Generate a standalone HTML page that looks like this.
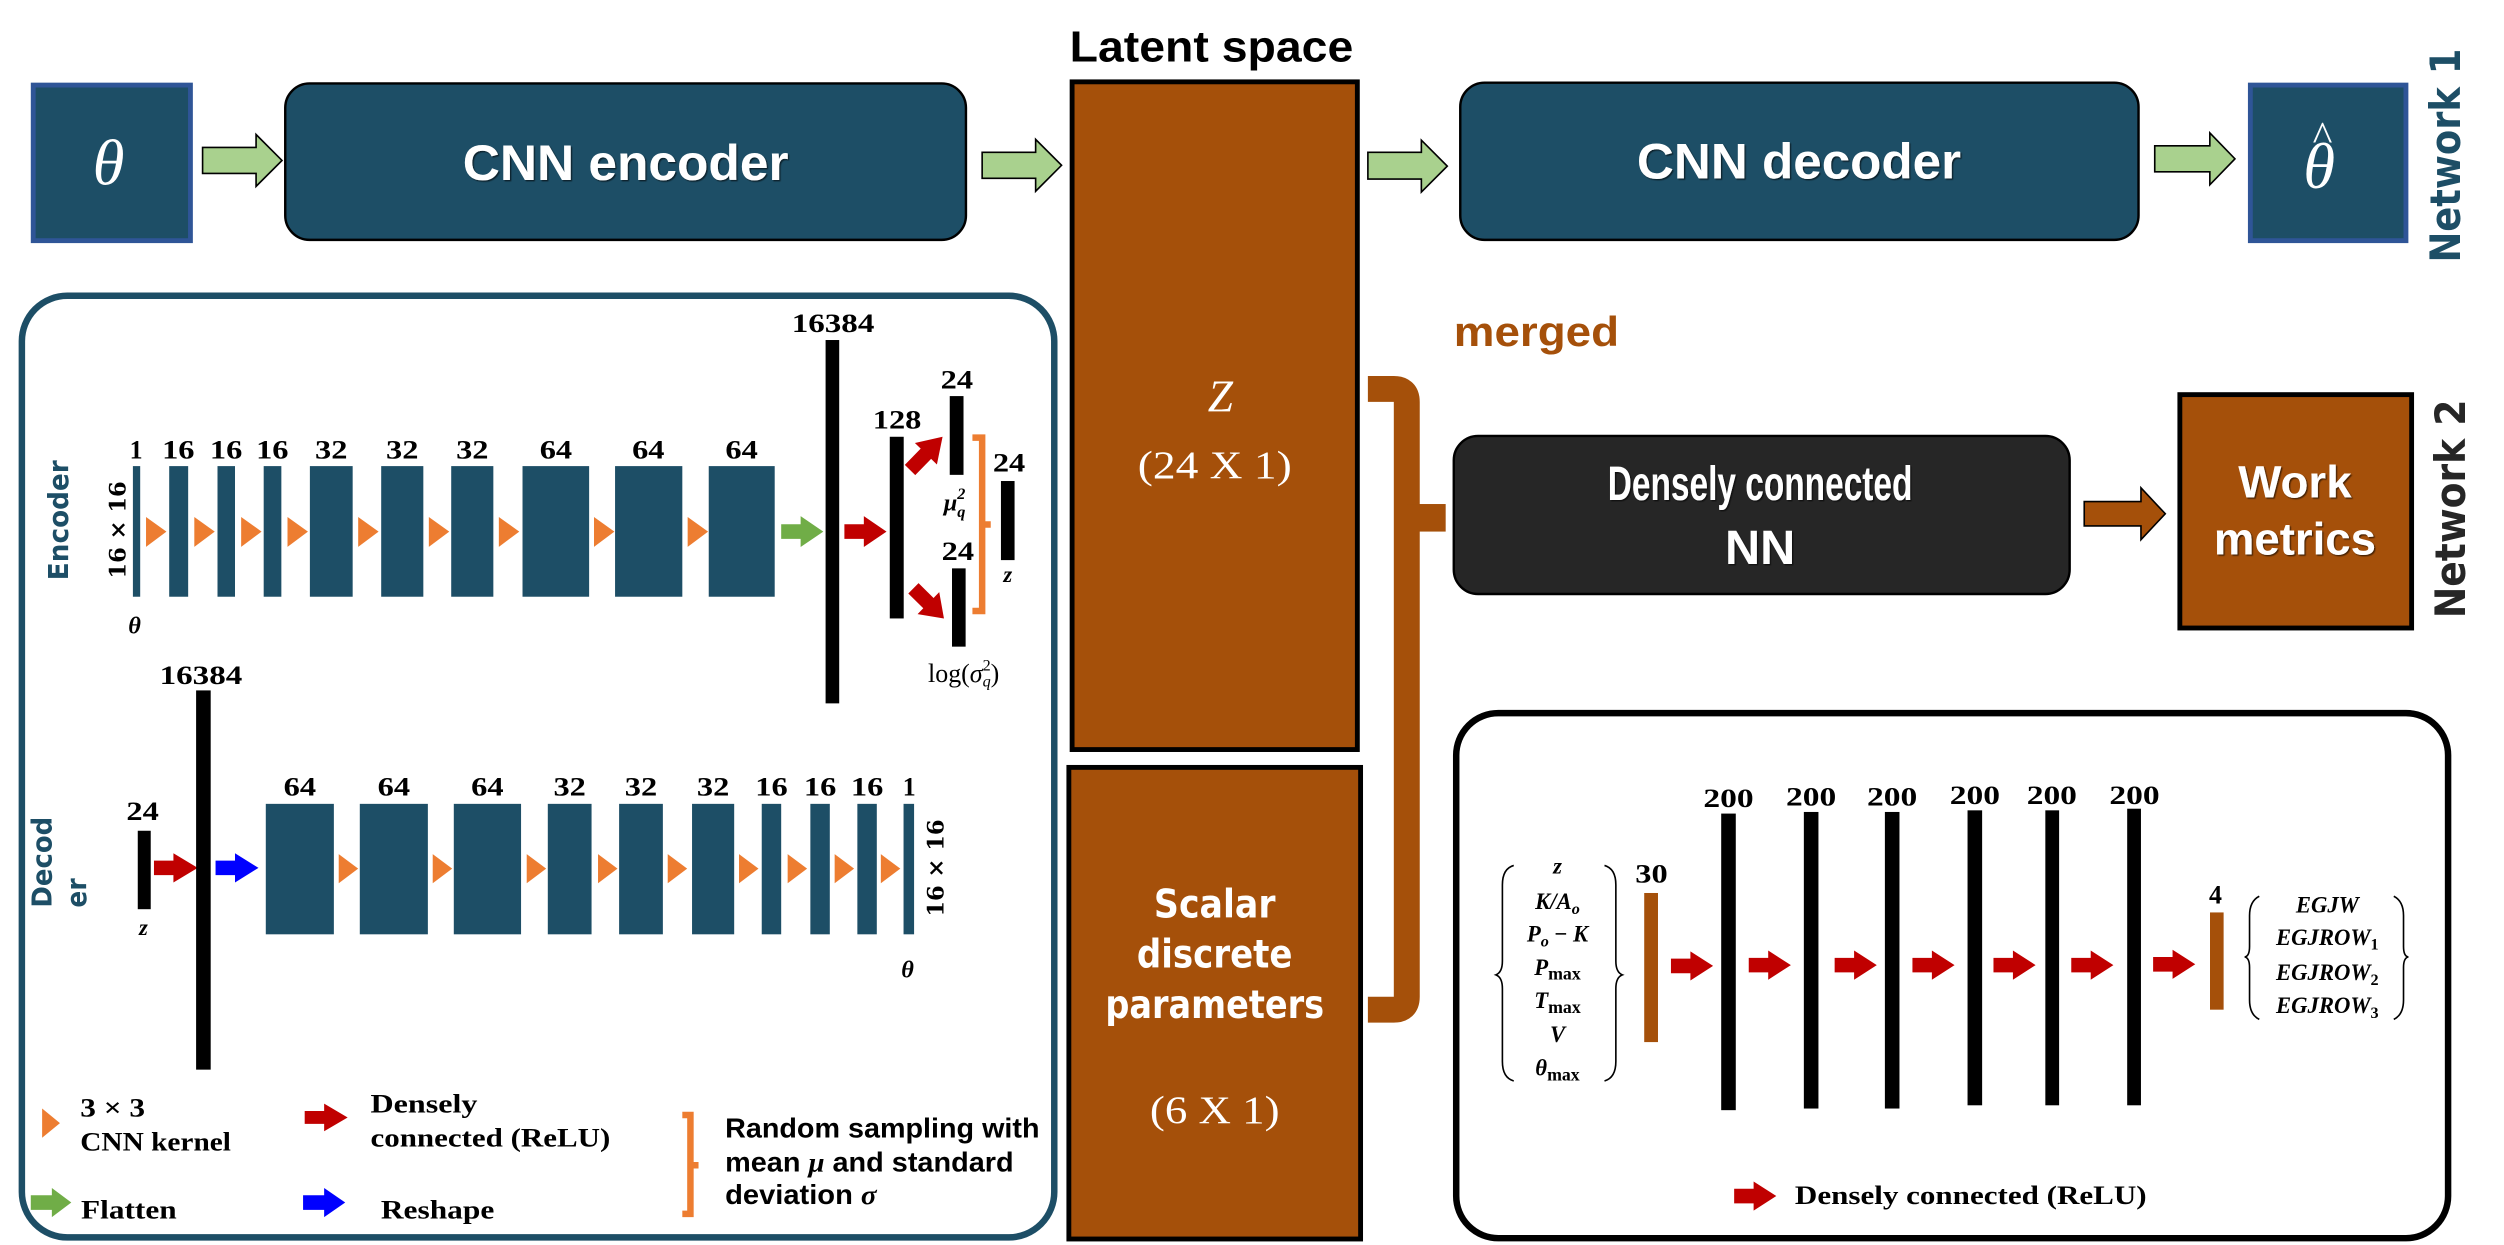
<!DOCTYPE html>
<html><head><meta charset="utf-8"><style>
html,body{margin:0;padding:0;background:#fff;}
svg{display:block;}
.num{font-family:"Liberation Serif",serif;font-weight:bold;font-size:16px;fill:#000;}
.lg{font-family:"Liberation Serif",serif;font-weight:bold;font-size:16px;fill:#000;}
.mi{font-family:"Liberation Serif",serif;font-style:italic;font-weight:bold;fill:#000;}
</style></head><body>
<svg width="2504" height="1245" viewBox="0 0 1545 768.2" preserveAspectRatio="none" xmlns="http://www.w3.org/2000/svg">
<defs>
<filter id="sh" x="-5%" y="-5%" width="110%" height="120%"><feDropShadow dx="0.8" dy="0.8" stdDeviation="0.4" flood-color="#000" flood-opacity="0.6"/></filter>
</defs>

<rect x="20.5" y="52.5" width="97" height="96" fill="#1d4e66" stroke="#2f5597" stroke-width="3"/>
<text x="67" y="114" text-anchor="middle" font-family="Liberation Serif,serif" font-style="italic" font-size="40" fill="#fff">θ</text>

<polygon points="125,91 158,91 158,83 174,99 158,115 158,107 125,107" fill="#a9d18e" stroke="#000" stroke-width="1"/>

<rect x="176" y="51.5" width="420" height="96.5" rx="15" fill="#1d4e66" stroke="#000" stroke-width="1.5"/>
<text x="386" y="111" text-anchor="middle" font-family="Liberation Sans,sans-serif" font-weight="bold" font-size="31" fill="#fff" textLength="201" lengthAdjust="spacingAndGlyphs" filter="url(#sh)">CNN encoder</text>

<polygon points="606,94 639,94 639,86 655,102 639,118 639,110 606,110" fill="#a9d18e" stroke="#000" stroke-width="1"/>

<text x="660" y="38" font-family="Liberation Sans,sans-serif" font-weight="bold" font-size="27" fill="#000" textLength="175" lengthAdjust="spacingAndGlyphs">Latent space</text>

<rect x="661.5" y="50.5" width="176" height="412" fill="#a5500a" stroke="#000" stroke-width="3"/>
<text x="753" y="254" text-anchor="middle" font-family="Liberation Serif,serif" font-style="italic" font-size="28" fill="#fff">Z</text>
<text x="749.5" y="295" text-anchor="middle" font-family="Liberation Serif,serif" font-size="24" fill="#fff" textLength="95" lengthAdjust="spacingAndGlyphs">(24 X 1)</text>

<rect x="659.5" y="473.5" width="180" height="291" fill="#a5500a" stroke="#000" stroke-width="3"/>
<text x="749.5" y="566" text-anchor="middle" font-family="DejaVu Sans,sans-serif" font-weight="bold" font-size="24" fill="#fff" textLength="75" lengthAdjust="spacingAndGlyphs">Scalar</text>
<text x="749.5" y="597" text-anchor="middle" font-family="DejaVu Sans,sans-serif" font-weight="bold" font-size="24" fill="#fff" textLength="96" lengthAdjust="spacingAndGlyphs">discrete</text>
<text x="749.5" y="628" text-anchor="middle" font-family="DejaVu Sans,sans-serif" font-weight="bold" font-size="24" fill="#fff" textLength="135" lengthAdjust="spacingAndGlyphs">parameters</text>
<text x="749.5" y="693" text-anchor="middle" font-family="Liberation Serif,serif" font-size="24" fill="#fff" textLength="80" lengthAdjust="spacingAndGlyphs">(6 X 1)</text>

<polygon points="844,94 877,94 877,86.5 893,102.5 877,118.5 877,110.5 844,110.5" fill="#a9d18e" stroke="#000" stroke-width="1"/>

<rect x="901" y="51" width="418.5" height="97" rx="15" fill="#1d4e66" stroke="#000" stroke-width="1.5"/>
<text x="1110" y="110" text-anchor="middle" font-family="Liberation Sans,sans-serif" font-weight="bold" font-size="31" fill="#fff" textLength="200" lengthAdjust="spacingAndGlyphs" filter="url(#sh)">CNN decoder</text>

<polygon points="1329.5,90 1363.5,90 1363.5,82 1379,98 1363.5,114 1363.5,106 1329.5,106" fill="#a9d18e" stroke="#000" stroke-width="1"/>

<rect x="1388.5" y="52.5" width="96" height="96" fill="#1d4e66" stroke="#2f5597" stroke-width="3"/>
<text x="1431" y="116" text-anchor="middle" font-family="Liberation Serif,serif" font-style="italic" font-size="40" fill="#fff">θ</text>
<text x="1433" y="93" text-anchor="middle" font-family="Liberation Serif,serif" font-size="26" fill="#fff">^</text>

<text transform="translate(1518,96) rotate(-90)" text-anchor="middle" font-family="DejaVu Sans,sans-serif" font-weight="bold" font-size="26" fill="#1d4e66" textLength="132" lengthAdjust="spacingAndGlyphs">Network 1</text>
<text transform="translate(1521,314) rotate(-90)" text-anchor="middle" font-family="DejaVu Sans,sans-serif" font-weight="bold" font-size="26" fill="#262626" textLength="135" lengthAdjust="spacingAndGlyphs">Network 2</text>

<text x="897" y="213.5" font-family="Liberation Sans,sans-serif" font-weight="bold" font-size="26" fill="#a5500a" textLength="102" lengthAdjust="spacingAndGlyphs">merged</text>

<path d="M844,240 H860 Q868,240 868,248 V615 Q868,623 860,623 H844" fill="none" stroke="#a5500a" stroke-width="16"/>
<rect x="868" y="311" width="24" height="17" fill="#a5500a"/>

<rect x="897" y="269" width="380" height="97.5" rx="15" fill="#262626" stroke="#000" stroke-width="1.5"/>
<text x="1086" y="308.5" text-anchor="middle" font-family="Liberation Sans,sans-serif" font-weight="bold" font-size="30" fill="#fff" textLength="188" lengthAdjust="spacingAndGlyphs" filter="url(#sh)">Densely connected</text>
<text x="1086" y="348" text-anchor="middle" font-family="Liberation Sans,sans-serif" font-weight="bold" font-size="30" fill="#fff" filter="url(#sh)">NN</text>

<polygon points="1286,309.5 1321,309.5 1321,301 1336,317 1321,333 1321,324.5 1286,324.5" fill="#a5500a" stroke="#000" stroke-width="1"/>

<rect x="1345" y="243.5" width="143" height="144" fill="#a5500a" stroke="#000" stroke-width="3"/>
<text x="1416" y="307" text-anchor="middle" font-family="Liberation Sans,sans-serif" font-weight="bold" font-size="28" fill="#fff" textLength="70" lengthAdjust="spacingAndGlyphs" filter="url(#sh)">Work</text>
<text x="1416" y="342" text-anchor="middle" font-family="Liberation Sans,sans-serif" font-weight="bold" font-size="28" fill="#fff" textLength="100" lengthAdjust="spacingAndGlyphs" filter="url(#sh)">metrics</text>

<rect x="13.5" y="182.5" width="637" height="581" rx="28" fill="none" stroke="#1d4e66" stroke-width="4"/>

<text transform="translate(42,321) rotate(-90)" text-anchor="middle" font-family="DejaVu Sans,sans-serif" font-weight="bold" font-size="17" fill="#1d4e66" textLength="74" lengthAdjust="spacingAndGlyphs">Encoder</text>
<text transform="translate(77.5,327) rotate(-90)" text-anchor="middle" font-family="DejaVu Serif,serif" font-weight="bold" font-size="14" fill="#000" textLength="60" lengthAdjust="spacingAndGlyphs">16 × 16</text>

<g fill="#1d4e66">
<rect x="82" y="287.6" width="4.5" height="80.6"/>
<rect x="104.4" y="287.6" width="11.7" height="80.6"/>
<rect x="134.2" y="287.6" width="10.8" height="80.6"/>
<rect x="162.7" y="287.6" width="10.9" height="80.6"/>
<rect x="191.2" y="287.6" width="26.4" height="80.6"/>
<rect x="235.2" y="287.6" width="26" height="80.6"/>
<rect x="278.4" y="287.6" width="26" height="80.6"/>
<rect x="322.4" y="287.6" width="41.1" height="80.6"/>
<rect x="379.5" y="287.6" width="41.5" height="80.6"/>
<rect x="437.3" y="287.6" width="40.7" height="80.6"/>
</g>
<g class="num" text-anchor="middle">
<text x="84" y="283">1</text>
<text x="110" y="283" textLength="20" lengthAdjust="spacingAndGlyphs">16</text>
<text x="139.5" y="283" textLength="20" lengthAdjust="spacingAndGlyphs">16</text>
<text x="168" y="283" textLength="20" lengthAdjust="spacingAndGlyphs">16</text>
<text x="204.4" y="283" textLength="20" lengthAdjust="spacingAndGlyphs">32</text>
<text x="248.2" y="283" textLength="20" lengthAdjust="spacingAndGlyphs">32</text>
<text x="291.4" y="283" textLength="20" lengthAdjust="spacingAndGlyphs">32</text>
<text x="343" y="283" textLength="20" lengthAdjust="spacingAndGlyphs">64</text>
<text x="400" y="283" textLength="20" lengthAdjust="spacingAndGlyphs">64</text>
<text x="457.6" y="283" textLength="20" lengthAdjust="spacingAndGlyphs">64</text>
<text x="514" y="205" textLength="51" lengthAdjust="spacingAndGlyphs">16384</text>
<text x="553.5" y="264.3" textLength="30" lengthAdjust="spacingAndGlyphs">128</text>
<text x="590.4" y="239.7" textLength="20" lengthAdjust="spacingAndGlyphs">24</text>
<text x="622.6" y="291" textLength="20" lengthAdjust="spacingAndGlyphs">24</text>
<text x="591" y="345.6" textLength="20" lengthAdjust="spacingAndGlyphs">24</text>
</g>
<g fill="#ed7d31">
<polygon points="90.1,319 102.7,328 90.1,337.4"/>
<polygon points="119.9,319 132.5,328 119.9,337.4"/>
<polygon points="148.8,319 161.4,328 148.8,337.4"/>
<polygon points="177.4,319 190,328 177.4,337.4"/>
<polygon points="221,319 233.6,328 221,337.4"/>
<polygon points="264.6,319 277.2,328 264.6,337.4"/>
<polygon points="307.8,319 320.4,328 307.8,337.4"/>
<polygon points="366.5,319 379.1,328 366.5,337.4"/>
<polygon points="424.3,319 436.9,328 424.3,337.4"/>
</g>
<text x="83" y="391" text-anchor="middle" class="mi" font-size="15">θ</text>

<polygon points="482,323.5 494,323.5 494,318.5 508,328 494,337.5 494,332.5 482,332.5" fill="#70ad47"/>
<rect x="509.4" y="209.8" width="8.4" height="224.2" fill="#000"/>
<polygon points="521,323.5 533,323.5 533,318.5 547,328 533,337.5 533,332.5 521,332.5" fill="#c00000"/>
<rect x="549" y="269.5" width="8.6" height="112.1" fill="#000"/>
<g transform="translate(561.5,290) rotate(-45.6)"><polygon points="0,-4.5 14,-4.5 14,-9.5 28.7,0 14,9.5 14,4.5 0,4.5" fill="#c00000"/></g>
<g transform="translate(563.6,363) rotate(44.7)"><polygon points="0,-4.5 13,-4.5 13,-9.5 26.5,0 13,9.5 13,4.5 0,4.5" fill="#c00000"/></g>
<rect x="586" y="244.4" width="8.5" height="48.6" fill="#000"/>
<rect x="587.4" y="350.7" width="8.4" height="48.3" fill="#000"/>
<rect x="617.6" y="296.8" width="8.4" height="48.8" fill="#000"/>
<path d="M600,270 H606 V377 H600 M606,323.6 H611.3" fill="none" stroke="#ed7d31" stroke-width="4"/>
<text x="589" y="315" text-anchor="middle" class="mi" font-size="15">μ<tspan font-size="10" dy="-7">2</tspan><tspan font-size="10" dx="-5" dy="11">q</tspan></text>
<text x="621.8" y="359" text-anchor="middle" class="mi" font-size="14">z</text>
<text x="594.6" y="420.7" text-anchor="middle" font-family="Liberation Serif,serif" font-size="16" fill="#000">log(<tspan font-style="italic">σ</tspan><tspan font-size="10" dy="-7">2</tspan><tspan font-size="10" font-style="italic" dx="-5" dy="10">q</tspan><tspan dy="-3">)</tspan></text>

<text transform="translate(31.7,532) rotate(-90)" text-anchor="middle" font-family="DejaVu Sans,sans-serif" font-weight="bold" font-size="17" fill="#1d4e66" textLength="56" lengthAdjust="spacingAndGlyphs">Decod</text>
<text transform="translate(53,551) rotate(-90)" text-anchor="middle" font-family="DejaVu Sans,sans-serif" font-weight="bold" font-size="17" fill="#1d4e66" textLength="18" lengthAdjust="spacingAndGlyphs">er</text>

<g class="num" text-anchor="middle">
<text x="124" y="422" textLength="51" lengthAdjust="spacingAndGlyphs">16384</text>
<text x="88" y="506" textLength="20" lengthAdjust="spacingAndGlyphs">24</text>
<text x="185" y="491" textLength="20" lengthAdjust="spacingAndGlyphs">64</text>
<text x="243" y="491" textLength="20" lengthAdjust="spacingAndGlyphs">64</text>
<text x="300.7" y="491" textLength="20" lengthAdjust="spacingAndGlyphs">64</text>
<text x="351.5" y="491" textLength="20" lengthAdjust="spacingAndGlyphs">32</text>
<text x="395.5" y="491" textLength="20" lengthAdjust="spacingAndGlyphs">32</text>
<text x="440" y="491" textLength="20" lengthAdjust="spacingAndGlyphs">32</text>
<text x="476" y="491" textLength="20" lengthAdjust="spacingAndGlyphs">16</text>
<text x="506" y="491" textLength="20" lengthAdjust="spacingAndGlyphs">16</text>
<text x="535" y="491" textLength="20" lengthAdjust="spacingAndGlyphs">16</text>
<text x="561" y="491">1</text>
</g>
<rect x="85" y="512.6" width="8" height="48.4" fill="#000"/>
<text x="88.5" y="577" text-anchor="middle" class="mi" font-size="14">z</text>
<polygon points="95,531 107,531 107,526.5 122,535.5 107,544.5 107,540 95,540" fill="#c00000"/>
<rect x="121" y="426" width="9" height="234" fill="#000"/>
<polygon points="133,531 145,531 145,526.5 159.5,535.5 145,544.5 145,540 133,540" fill="#0000ff"/>
<g fill="#1d4e66">
<rect x="164" y="496" width="42" height="80.5"/>
<rect x="222" y="496" width="42" height="80.5"/>
<rect x="280" y="496" width="41.5" height="80.5"/>
<rect x="338" y="496" width="27" height="80.5"/>
<rect x="382" y="496" width="27" height="80.5"/>
<rect x="427" y="496" width="26" height="80.5"/>
<rect x="470" y="496" width="12" height="80.5"/>
<rect x="500" y="496" width="12" height="80.5"/>
<rect x="529" y="496" width="12" height="80.5"/>
<rect x="557.5" y="496" width="6.5" height="80.5"/>
</g>
<g fill="#ed7d31">
<polygon points="209,527 221,536 209,545"/>
<polygon points="267,527 279,536 267,545"/>
<polygon points="325,527 337,536 325,545"/>
<polygon points="369,527 381,536 369,545"/>
<polygon points="412,527 424,536 412,545"/>
<polygon points="456,527 468,536 456,545"/>
<polygon points="486,527 498,536 486,545"/>
<polygon points="515,527 527,536 515,545"/>
<polygon points="543.5,527 555.5,536 543.5,545"/>
</g>
<text transform="translate(582,535.6) rotate(-90)" text-anchor="middle" font-family="DejaVu Serif,serif" font-weight="bold" font-size="14" fill="#000" textLength="60" lengthAdjust="spacingAndGlyphs">16 × 16</text>
<text x="560" y="603" text-anchor="middle" class="mi" font-size="15">θ</text>

<polygon points="26,684 37,693 26,702" fill="#ed7d31"/>
<text x="49.5" y="689" class="lg" textLength="40" lengthAdjust="spacingAndGlyphs">3 × 3</text>
<text x="49.5" y="710" class="lg" textLength="93" lengthAdjust="spacingAndGlyphs">CNN kernel</text>
<polygon points="188,685.5 200,685.5 200,681 214.5,689.5 200,698 200,693.5 188,693.5" fill="#c00000"/>
<text x="228.6" y="686.5" class="lg" textLength="66" lengthAdjust="spacingAndGlyphs">Densely</text>
<text x="228.6" y="707.5" class="lg" textLength="148" lengthAdjust="spacingAndGlyphs">connected (ReLU)</text>
<path d="M421,688 H426 V749 H421 M426,719 H431" fill="none" stroke="#ed7d31" stroke-width="4"/>
<text x="447.4" y="702" font-family="Liberation Sans,sans-serif" font-weight="bold" font-size="17" textLength="194" lengthAdjust="spacingAndGlyphs">Random sampling with</text>
<text x="447.4" y="723" font-family="Liberation Sans,sans-serif" font-weight="bold" font-size="17" textLength="178" lengthAdjust="spacingAndGlyphs">mean <tspan font-family="Liberation Serif,serif" font-style="italic">μ</tspan> and standard</text>
<text x="447.4" y="743" font-family="Liberation Sans,sans-serif" font-weight="bold" font-size="17" textLength="93.5" lengthAdjust="spacingAndGlyphs">deviation <tspan font-family="Liberation Serif,serif" font-style="italic">σ</tspan></text>
<polygon points="19,737.5 32,737.5 32,733 44,742 32,751 32,746.5 19,746.5" fill="#70ad47"/>
<text x="50" y="752" class="lg" textLength="59" lengthAdjust="spacingAndGlyphs">Flatten</text>
<polygon points="187,737.5 200,737.5 200,733 213,742 200,751 200,746.5 187,746.5" fill="#0000ff"/>
<text x="235" y="752" class="lg" textLength="70" lengthAdjust="spacingAndGlyphs">Reshape</text>

<rect x="898.5" y="440" width="612" height="324" rx="26" fill="none" stroke="#000" stroke-width="4"/>

<path d="M934,534 Q927,536 927,546 V593 Q927,600 923,601.5 Q927,603 927,610 V655 Q927,665 934,667" fill="none" stroke="#000" stroke-width="1"/>
<path d="M990,534 Q997,536 997,546 V593 Q997,600 1001,601.5 Q997,603 997,610 V655 Q997,665 990,667" fill="none" stroke="#000" stroke-width="1"/>
<g class="mi" text-anchor="middle" font-size="14">
<text x="961" y="539">z</text>
<text x="961" y="561">K/A<tspan font-size="10" dy="3">o</tspan></text>
<text x="961" y="581">P<tspan font-size="10" dy="3">o</tspan><tspan dy="-3" font-style="normal"> − </tspan>K</text>
<text x="961" y="601.5">P<tspan font-size="11" font-style="normal" dy="3">max</tspan></text>
<text x="961" y="622">T<tspan font-size="11" font-style="normal" dy="3">max</tspan></text>
<text x="961" y="643">V</text>
<text x="961" y="663.6">θ<tspan font-size="11" font-style="normal" dy="3">max</tspan></text>
</g>
<text x="1019" y="544.6" text-anchor="middle" class="num" textLength="20" lengthAdjust="spacingAndGlyphs">30</text>
<rect x="1014.5" y="551" width="8.5" height="92" fill="#a5500a"/>

<g fill="#000">
<rect x="1062" y="502" width="9" height="183"/>
<rect x="1113" y="501" width="9" height="183"/>
<rect x="1163" y="501" width="9" height="183"/>
<rect x="1214" y="500" width="9" height="182"/>
<rect x="1262" y="500" width="8.5" height="182"/>
<rect x="1312.5" y="499" width="8.5" height="183"/>
</g>
<g class="num" text-anchor="middle">
<text x="1066.5" y="498" textLength="31" lengthAdjust="spacingAndGlyphs">200</text>
<text x="1117.5" y="497" textLength="31" lengthAdjust="spacingAndGlyphs">200</text>
<text x="1167.5" y="497" textLength="31" lengthAdjust="spacingAndGlyphs">200</text>
<text x="1218.5" y="496" textLength="31" lengthAdjust="spacingAndGlyphs">200</text>
<text x="1266" y="496" textLength="31" lengthAdjust="spacingAndGlyphs">200</text>
<text x="1317" y="496" textLength="31" lengthAdjust="spacingAndGlyphs">200</text>
</g>
<g fill="#c00000">
<polygon points="1031,591.5 1043,591.5 1043,587 1057,596 1043,605 1043,600.5 1031,600.5"/>
<polygon points="1079,591 1091,591 1091,586.5 1105,595.5 1091,604.5 1091,600 1079,600"/>
<polygon points="1132,591 1144,591 1144,586.5 1158,595.5 1144,604.5 1144,600 1132,600"/>
<polygon points="1180,591 1192,591 1192,586.5 1206,595.5 1192,604.5 1192,600 1180,600"/>
<polygon points="1230,591 1242,591 1242,586.5 1256,595.5 1242,604.5 1242,600 1230,600"/>
<polygon points="1278,591 1290,591 1290,586.5 1304,595.5 1290,604.5 1290,600 1278,600"/>
<polygon points="1328.5,590.5 1340.5,590.5 1340.5,586 1354.5,595 1340.5,604 1340.5,599.5 1328.5,599.5"/>
</g>
<text x="1367" y="557.5" text-anchor="middle" class="num">4</text>
<rect x="1363.6" y="563" width="8.4" height="60" fill="#a5500a"/>
<path d="M1394,553 Q1388,556 1388,565 V584 Q1388,590 1385,590.5 Q1388,591 1388,597 V617 Q1388,626 1394,629" fill="none" stroke="#000" stroke-width="1"/>
<path d="M1477,553 Q1483,556 1483,565 V584 Q1483,590 1486,590.5 Q1483,591 1483,597 V617 Q1483,626 1477,629" fill="none" stroke="#000" stroke-width="1"/>
<g class="mi" text-anchor="middle" font-size="14">
<text x="1436" y="563">EGJW</text>
<text x="1436" y="583">EGJROW<tspan font-size="10" font-style="normal" dy="3">1</tspan></text>
<text x="1436" y="604.7">EGJROW<tspan font-size="10" font-style="normal" dy="3">2</tspan></text>
<text x="1436" y="625">EGJROW<tspan font-size="10" font-style="normal" dy="3">3</tspan></text>
</g>

<polygon points="1070,733.5 1082,733.5 1082,729 1096,738 1082,747 1082,742.5 1070,742.5" fill="#c00000"/>
<text x="1107.5" y="743" class="lg" textLength="217" lengthAdjust="spacingAndGlyphs">Densely connected (ReLU)</text>
</svg>
</body></html>
